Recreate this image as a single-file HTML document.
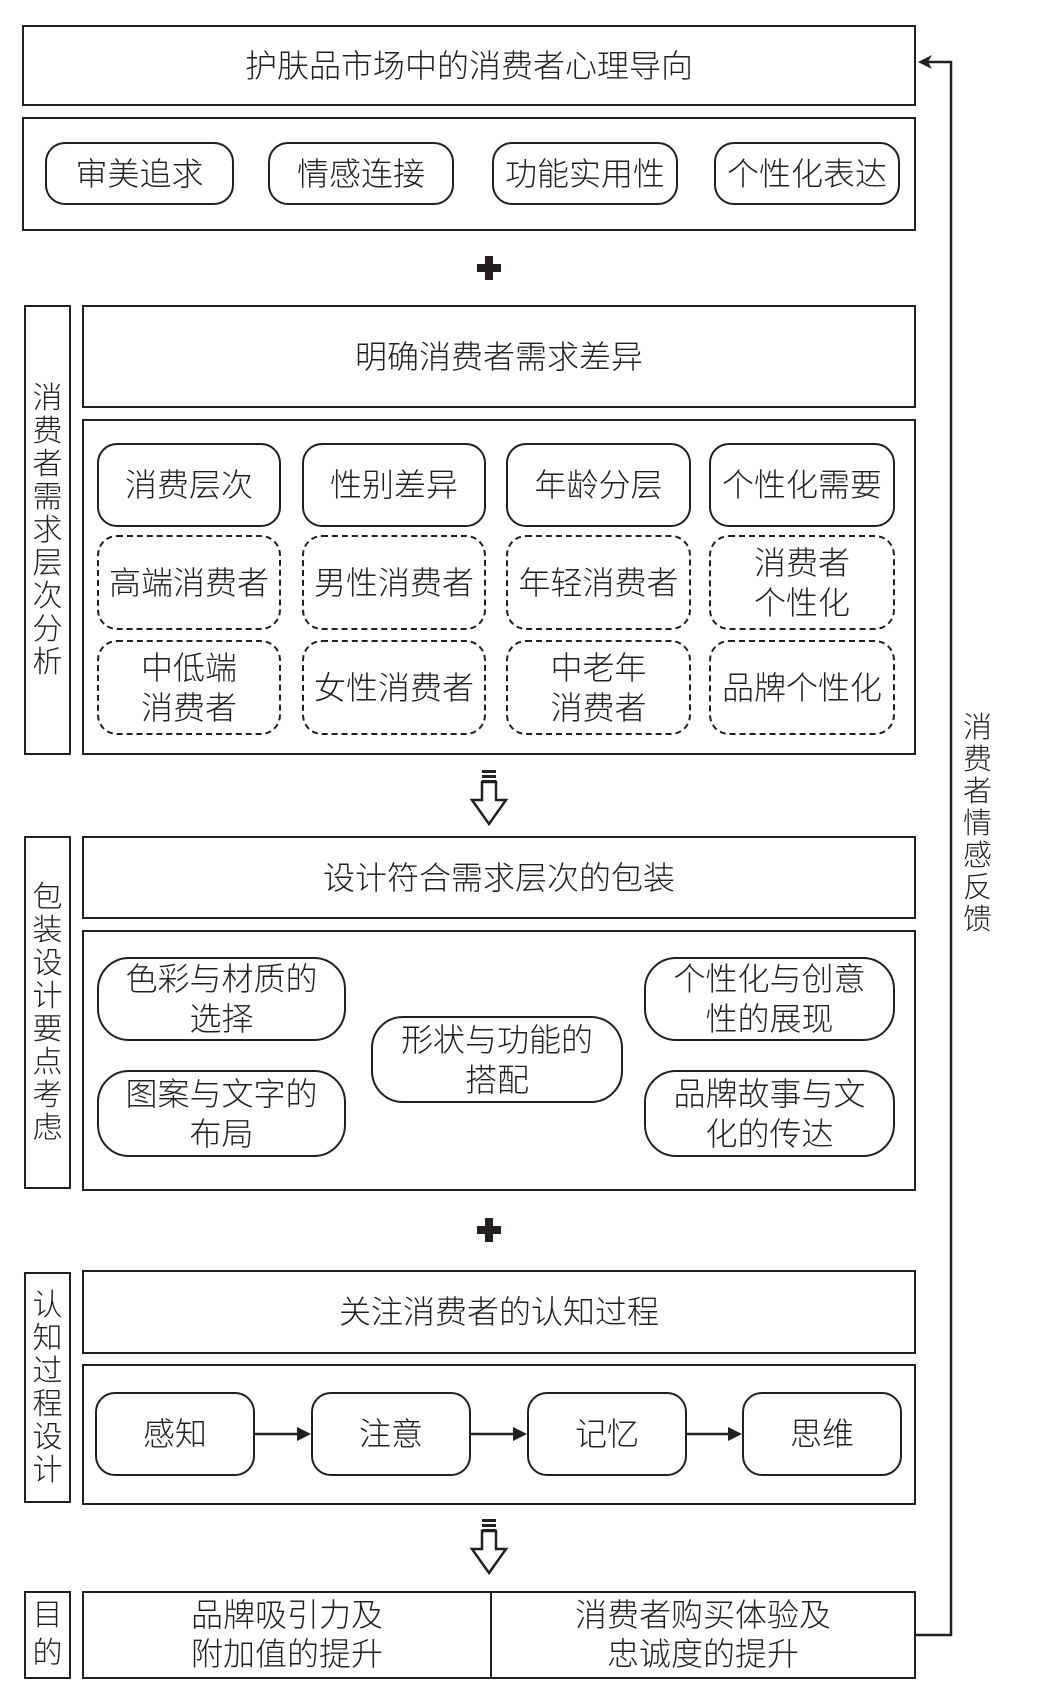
<!DOCTYPE html>
<html><head><meta charset="utf-8"><style>
body{margin:0;width:1038px;height:1701px;background:#fff;position:relative;font-family:"Liberation Sans","Noto Sans CJK SC",sans-serif;color:#231f20;overflow:hidden}
.b{position:absolute;box-sizing:border-box;border:2.5px solid #231f20;display:flex;align-items:center;justify-content:center;text-align:center;font-size:32px;line-height:40px;font-weight:300;white-space:nowrap}
.r{border-radius:20px}
.d{border-style:dashed;border-radius:20px}
.v{line-height:33px;font-size:30px;width:1em;word-break:break-all;white-space:normal;position:absolute;text-align:center}
</style></head><body>
<div class="b" style="left:22px;top:25px;width:894px;height:81px">护肤品市场中的消费者心理导向</div>
<div class="b" style="left:22px;top:117px;width:894px;height:114px"></div>
<div class="b r" style="left:45px;top:142px;width:189px;height:63px">审美追求</div>
<div class="b r" style="left:268px;top:142px;width:186px;height:63px">情感连接</div>
<div class="b r" style="left:492px;top:142px;width:186px;height:63px">功能实用性</div>
<div class="b r" style="left:714px;top:142px;width:186px;height:63px">个性化表达</div>

<div class="b" style="left:24px;top:305px;width:47px;height:450px"><div class="v" style="position:static">消费者需求层次分析</div></div>
<div class="b" style="left:82px;top:305px;width:834px;height:103px">明确消费者需求差异</div>
<div class="b" style="left:82px;top:419px;width:834px;height:336px"></div>
<div class="b r" style="left:97px;top:443px;width:184px;height:84px">消费层次</div>
<div class="b r" style="left:302px;top:443px;width:184px;height:84px">性别差异</div>
<div class="b r" style="left:506px;top:443px;width:185px;height:84px">年龄分层</div>
<div class="b r" style="left:709px;top:443px;width:186px;height:84px">个性化需要</div>
<div class="b d" style="left:97px;top:535px;width:184px;height:95px">高端消费者</div>
<div class="b d" style="left:302px;top:535px;width:184px;height:95px">男性消费者</div>
<div class="b d" style="left:506px;top:535px;width:185px;height:95px">年轻消费者</div>
<div class="b d" style="left:709px;top:535px;width:186px;height:95px">消费者<br>个性化</div>
<div class="b d" style="left:97px;top:640px;width:184px;height:95px">中低端<br>消费者</div>
<div class="b d" style="left:302px;top:640px;width:184px;height:95px">女性消费者</div>
<div class="b d" style="left:506px;top:640px;width:185px;height:95px">中老年<br>消费者</div>
<div class="b d" style="left:709px;top:640px;width:186px;height:95px">品牌个性化</div>

<div class="b" style="left:24px;top:836px;width:47px;height:353px"><div class="v" style="position:static">包装设计要点考虑</div></div>
<div class="b" style="left:82px;top:836px;width:834px;height:83px">设计符合需求层次的包装</div>
<div class="b" style="left:82px;top:930px;width:834px;height:261px"></div>
<div class="b r" style="left:97px;top:957px;width:249px;height:84px;border-radius:32px">色彩与材质的<br>选择</div>
<div class="b r" style="left:97px;top:1070px;width:249px;height:87px;border-radius:32px">图案与文字的<br>布局</div>
<div class="b r" style="left:371px;top:1016px;width:252px;height:87px;border-radius:32px">形状与功能的<br>搭配</div>
<div class="b r" style="left:644px;top:957px;width:251px;height:84px;border-radius:32px">个性化与创意<br>性的展现</div>
<div class="b r" style="left:644px;top:1070px;width:251px;height:87px;border-radius:32px">品牌故事与文<br>化的传达</div>

<div class="b" style="left:24px;top:1272px;width:47px;height:231px"><div class="v" style="position:static">认知过程设计</div></div>
<div class="b" style="left:82px;top:1270px;width:834px;height:84px">关注消费者的认知过程</div>
<div class="b" style="left:82px;top:1364px;width:834px;height:141px"></div>
<div class="b r" style="left:95px;top:1392px;width:160px;height:84px">感知</div>
<div class="b r" style="left:311px;top:1392px;width:160px;height:84px">注意</div>
<div class="b r" style="left:527px;top:1392px;width:160px;height:84px">记忆</div>
<div class="b r" style="left:742px;top:1392px;width:160px;height:84px">思维</div>

<div class="b" style="left:24px;top:1591px;width:47px;height:88px"><div class="v" style="position:static;line-height:38px">目的</div></div>
<div class="b" style="left:82px;top:1591px;width:410px;height:88px;line-height:39px">品牌吸引力及<br>附加值的提升</div>
<div class="b" style="left:490px;top:1591px;width:426px;height:88px;line-height:39px">消费者购买体验及<br>忠诚度的提升</div>

<div class="v" style="left:963px;top:712px;font-size:29px;line-height:32px;font-weight:300">消费者情感反馈</div>

<svg width="1038" height="1701" style="position:absolute;left:0;top:0" xmlns="http://www.w3.org/2000/svg">
<g fill="#231f20">
<rect x="477" y="264" width="24" height="8"/><rect x="485" y="256" width="8" height="24"/>
<rect x="477" y="1226" width="24" height="8"/><rect x="485" y="1218" width="8" height="24"/>
</g>
<g fill="none" stroke="#231f20" stroke-width="2.5">
<polyline points="916,1635 951,1635 951,62 922,62"/>
<line x1="255" y1="1434" x2="300" y2="1434"/>
<line x1="471" y1="1434" x2="516" y2="1434"/>
<line x1="687" y1="1434" x2="731" y2="1434"/>
<path d="M482,782 h14 v18 h10 l-17,24 l-17,-24 h10 z" fill="#fff"/>
<path d="M482,1531 h14 v18 h10 l-17,24 l-17,-24 h10 z" fill="#fff"/>
</g>
<g fill="#231f20">
<polygon points="918,62 932,55 928,62 932,69"/>
<polygon points="311,1434 297,1427 297,1441"/>
<polygon points="527,1434 513,1427 513,1441"/>
<polygon points="742,1434 728,1427 728,1441"/>
<rect x="482" y="770" width="14" height="3"/><rect x="482" y="775" width="14" height="3"/><rect x="482" y="780" width="14" height="3"/>
<rect x="482" y="1519" width="14" height="3"/><rect x="482" y="1524" width="14" height="3"/><rect x="482" y="1529" width="14" height="3"/>
</g>
</svg>
</body></html>
